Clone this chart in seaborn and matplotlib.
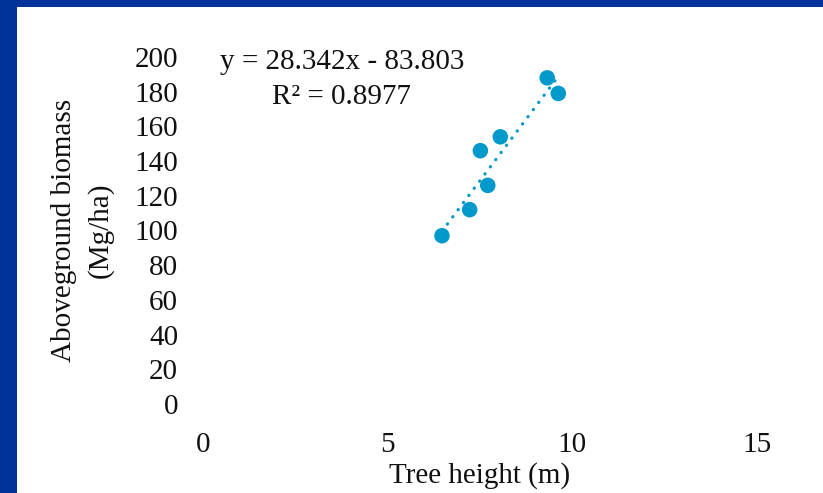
import numpy as np
import pandas as pd
import seaborn as sns
import matplotlib
matplotlib.use("Agg")
import matplotlib.pyplot as plt
from matplotlib.patches import Rectangle

# Data
tree_height = [6.47, 7.22, 7.51, 7.71, 8.05, 9.32, 9.62]
biomass = [97, 112, 146, 126, 154, 188, 179]
slope = 28.342
intercept = -83.803
r_squared = 0.8977
x_ticks = [0, 5, 10, 15]
y_ticks = [0, 20, 40, 60, 80, 100, 120, 140, 160, 180, 200]

df = pd.DataFrame({"height": tree_height, "biomass": biomass})
xs = np.array([min(tree_height), max(tree_height)])
trend = pd.DataFrame({"height": xs, "biomass": slope * xs + intercept})

sns.set_style("white")
plt.rcParams["font.family"] = ["Liberation Serif", "DejaVu Serif"]
plt.rcParams["text.color"] = "#111111"
plt.rcParams["axes.labelcolor"] = "#111111"

W, H = 823, 493
FS = 21
fig = plt.figure(figsize=(W / 100, H / 100), dpi=100)
fig.patch.set_facecolor("#003399")
fig.patches.append(Rectangle((17 / W, 0), 1, 1 - 7 / H, transform=fig.transFigure,
                             facecolor="white", edgecolor="none", zorder=-10))

ax = fig.add_axes([203 / W, 1 - 404 / H, (757 - 203) / W, (404 - 57) / H])
ax.set_facecolor("none")
ax.set_zorder(1)

color = "#0099CC"
sns.lineplot(data=trend, x="height", y="biomass", ax=ax, color=color,
             linewidth=2.3, dashes=False, zorder=2)
line = ax.lines[-1]
line.set_linestyle((0, (0.1, 2.7)))
line.set_dash_capstyle("round")
sns.scatterplot(data=df, x="height", y="biomass", ax=ax, color=color, s=125,
                edgecolor="none", zorder=3)

ax.set_xlim(0, 15)
ax.set_ylim(0, 200)
ax.set_xticks(x_ticks)
ax.set_yticks(y_ticks)
for s in ax.spines.values():
    s.set_visible(False)
ax.tick_params(axis="both", length=0, labelsize=FS, colors="#111111")
ax.tick_params(axis="y", pad=18)
ax.tick_params(axis="x", pad=20)

ax.set_xlabel("Tree height (m)", fontsize=FS, labelpad=3)
ax.set_ylabel("Aboveground biomass\n(Mg/ha)", fontsize=FS, labelpad=15, linespacing=1.45)

fig.text(342 / W, 1 - 62 / H, f"y = {slope}x - {abs(intercept)}", ha="center", va="center",
         fontsize=FS, zorder=5)
fig.text(342 / W, 1 - 97 / H, f"R² = {r_squared}", ha="center", va="center", fontsize=FS,
         zorder=5)

fig.savefig("out.png", dpi=100, facecolor=fig.get_facecolor())
